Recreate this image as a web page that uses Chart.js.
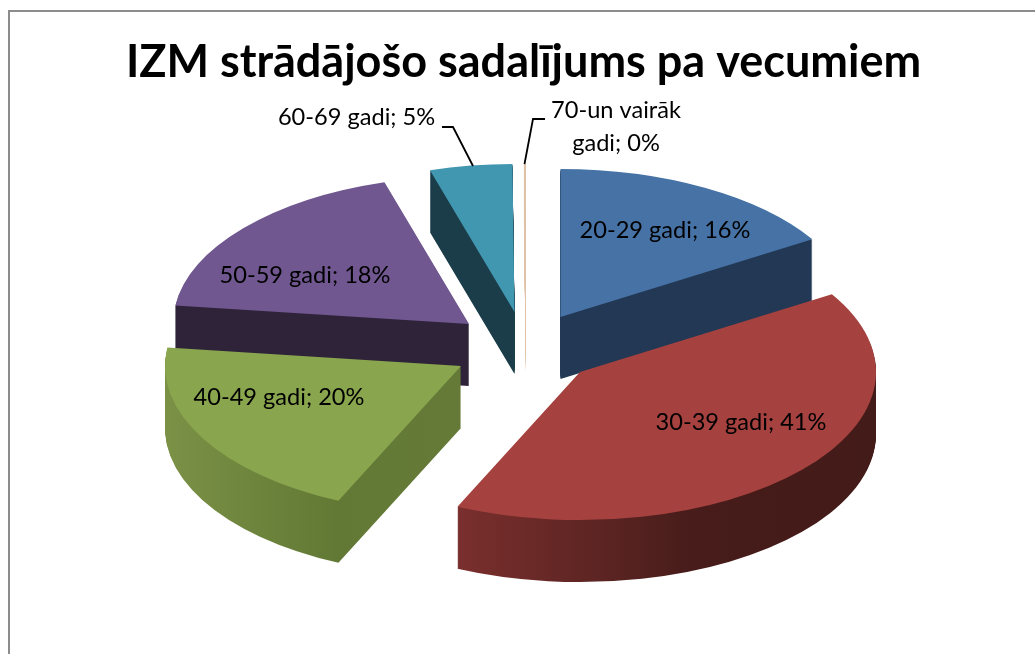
<!DOCTYPE html>
<html>
<head>
<meta charset="utf-8">
<style>html,body{margin:0;padding:0;background:#fff}canvas{display:block}</style>
<script src="https://cdn.jsdelivr.net/npm/chart.js@4"></script>
</head>
<body>
<canvas id="c" width="1035" height="654"></canvas>
<script>
const titleText = 'IZM strādājošo sadalījums pa vecumiem';
const categories = ['20-29 gadi', '30-39 gadi', '40-49 gadi', '50-59 gadi', '60-69 gadi', '70-un vairāk gadi'];
const shares = [16.2, 40.6, 20.2, 18.4, 4.5, 0.11];
const topColors = ['#4672a6', '#a5423f', '#89a54e', '#70578f', '#4197b0', '#e0c2a8'];
// wall colours: [fraction across the pie's width, colour]
const wallStops = [
  [[0, '#223854'], [1, '#223854']],
  [[0, '#7a2f2d'], [0.29, '#7a2f2d'], [0.567, '#582321'], [0.686, '#471c1a'], [1, '#431b18']],
  [[0, '#7b9146'], [0.29, '#627935'], [0.5, '#667a38'], [1, '#667a38']],
  [[0, '#2e2339'], [1, '#2e2339']],
  [[0, '#1b3d49'], [1, '#1b3d49']],
  [[0, '#e0c2a8'], [1, '#e0c2a8']]
];
// exploded look
const explodeX = [37, 56.5, -62.5, -54.5, -9, 2.5];
const explodeY = [-25, 30, 24, -18, -30, -30];
const paintOrder = [4, 3, 0, 5, 2, 1];
const pieRadius = 296, squash = 0.5, depth = 62;
const labelFont = '23.6px Lato';
const labelLines = [
  ['20-29 gadi; 16%'], ['30-39 gadi; 41%'], ['40-49 gadi; 20%'],
  ['50-59 gadi; 18%'], ['60-69 gadi; 5%'], ['70-un vairāk', 'gadi; 0%']
];
const labelX = [665, 741, 279, 305, 356.5, 616];
const labelY = [230, 422, 397, 275, 117, 110];
const leaderLines = [
  [[442, 127], [453, 127], [473, 166]],
  [[545, 119], [533, 119], [524.5, 164]]
];

const pie3d = {
  id: 'pie3d',
  beforeDatasetsDraw(chart) {
    const ctx = chart.ctx;
    const arcs = chart.getDatasetMeta(0).data;
    paintOrder.forEach(i => {
      const arc = arcs[i];
      const saved = arc.options;
      const place = (dy) => {
        ctx.translate(arc.x + explodeX[i], arc.y + explodeY[i] + dy);
        ctx.scale(1, squash);
        ctx.translate(-arc.x, -arc.y);
      };
      const grad = ctx.createLinearGradient(arc.x - pieRadius, 0, arc.x + pieRadius, 0);
      wallStops[i].forEach(s => grad.addColorStop(s[0], s[1]));
      arc.options = {backgroundColor: grad, borderColor: grad, borderWidth: 0, offset: 0, spacing: 0,
        borderAlign: 'center', circular: true, borderRadius: 0};
      for (let k = depth; k >= 1; k--) {
        ctx.save(); place(k); arc.draw(ctx); ctx.restore();
      }
      arc.options = {backgroundColor: topColors[i], borderColor: topColors[i], borderWidth: 0, offset: 0, spacing: 0,
        borderAlign: 'center', circular: true, borderRadius: 0};
      ctx.save(); place(0); arc.draw(ctx); ctx.restore();
      arc.options = saved;
    });
    ctx.save();
    ctx.strokeStyle = '#000'; ctx.lineWidth = 1.8;
    leaderLines.forEach(l => {
      ctx.beginPath();
      l.forEach((p, j) => j ? ctx.lineTo(p[0], p[1]) : ctx.moveTo(p[0], p[1]));
      ctx.stroke();
    });
    ctx.fillStyle = '#000'; ctx.font = labelFont;
    ctx.textAlign = 'center'; ctx.textBaseline = 'middle';
    labelLines.forEach((lines, i) => lines.forEach((t, j) => ctx.fillText(t, labelX[i], labelY[i] + j * 33)));
    ctx.restore();
    return false;
  },
  afterDraw(chart) {
    const ctx = chart.ctx;
    ctx.save();
    ctx.strokeStyle = '#8c8c8c'; ctx.lineWidth = 2;
    ctx.beginPath();
    ctx.moveTo(9, 654); ctx.lineTo(9, 11); ctx.lineTo(1035, 11);
    ctx.stroke();
    ctx.restore();
  }
};

new Chart(document.getElementById('c'), {
  type: 'pie',
  data: {labels: categories, datasets: [{data: shares, backgroundColor: topColors, borderWidth: 0}]},
  options: {
    responsive: false, animation: false, radius: pieRadius,
    layout: {padding: {left: 12, bottom: 66}},
    plugins: {
      legend: {display: false},
      tooltip: {enabled: false},
      title: {display: true, text: titleText, color: '#000',
        font: {family: 'Lato', weight: 'bold', size: 45, lineHeight: 1.2},
        padding: {top: 35, bottom: 7}}
    }
  },
  plugins: [pie3d]
});
</script>
</body>
</html>
